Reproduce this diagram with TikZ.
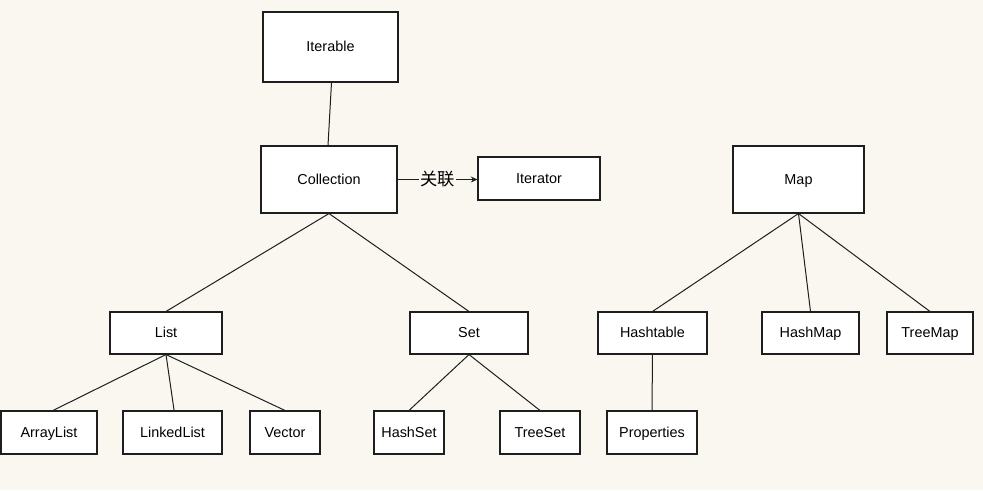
\documentclass[tikz,border=0pt]{standalone}
\usepackage{fontspec}
\setmainfont{Liberation Sans}
\newfontfamily\cjk{Noto Sans CJK SC}
\usetikzlibrary{arrows.meta}
\definecolor{bgcol}{RGB}{249,247,240}
\definecolor{linecol}{RGB}{30,30,30}
\begin{document}
\begin{tikzpicture}[x=0.75pt,y=-0.75pt,
  box/.style={draw=linecol, fill=white, line width=0.8pt, inner sep=0pt, text height=8.6pt, text depth=1.4pt, font=\fontsize{10.8pt}{12pt}\selectfont},
  conn/.style={draw=linecol, line width=0.75pt}]
\fill[bgcol] (0,0) rectangle (983,490);
\useasboundingbox (0,0) rectangle (983,490);
\node[box, minimum width=101.25pt, minimum height=52.5pt] (iterable) at (330.5,47) {Iterable};
\node[box, minimum width=102pt, minimum height=50.25pt] (collection) at (329,179.5) {Collection};
\node[box, minimum width=91.5pt, minimum height=32.25pt] (iterator) at (539,178.5) {Iterator};
\node[box, minimum width=98.25pt, minimum height=50.25pt] (map) at (798.5,179.5) {Map};
\node[box, minimum width=84pt, minimum height=31.5pt] (list) at (166,333) {List};
\node[box, minimum width=88.5pt, minimum height=31.5pt] (set) at (469,333) {Set};
\node[box, minimum width=81.75pt, minimum height=31.5pt] (hashtable) at (652.5,333) {Hashtable};
\node[box, minimum width=72.75pt, minimum height=31.5pt] (hashmap) at (810.5,333) {HashMap};
\node[box, minimum width=64.5pt, minimum height=31.5pt] (treemap) at (930,333) {TreeMap};
\node[box, minimum width=72pt, minimum height=32.25pt] (arraylist) at (49,432.5) {ArrayList};
\node[box, minimum width=74.25pt, minimum height=32.25pt] (linkedlist) at (172.5,432.5) {LinkedList};
\node[box, minimum width=52.5pt, minimum height=32.25pt] (vector) at (285,432.5) {Vector};
\node[box, minimum width=52.5pt, minimum height=32.25pt] (hashset) at (409,432.5) {HashSet};
\node[box, minimum width=60pt, minimum height=32.25pt] (treeset) at (540,432.5) {TreeSet};
\node[box, minimum width=67.5pt, minimum height=32.25pt] (properties) at (652,432.5) {Properties};
% connectors
\draw[conn] ([xshift=0.75pt]iterable.south) -- ([xshift=-0.75pt]collection.north);
\draw[conn] (collection.south) -- (list.north);
\draw[conn] (collection.south) -- (set.north);
\draw[conn] (list.south) -- ([xshift=3pt]arraylist.north);
\draw[conn] (list.south) -- ([xshift=1.2pt]linkedlist.north);
\draw[conn] (list.south) -- (vector.north);
\draw[conn] (set.south) -- (hashset.north);
\draw[conn] (set.south) -- (treeset.north);
\draw[conn] (map.south) -- (hashtable.north);
\draw[conn] (map.south) -- (hashmap.north);
\draw[conn] (map.south) -- (treemap.north);
\draw[conn] (hashtable.south) -- (properties.north);
\draw[conn, -{Stealth[length=5pt,width=4.5pt]}] (collection.east) -- node[fill=bgcol, inner sep=1pt, font=\cjk\fontsize{13pt}{15pt}\selectfont] (lbl) {关联} (collection.east -| iterator.west);
\end{tikzpicture}
\end{document}
